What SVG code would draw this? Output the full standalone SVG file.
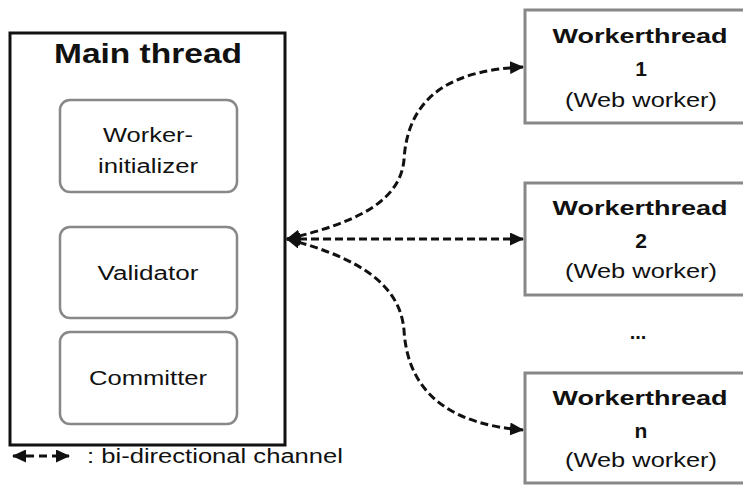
<svg xmlns="http://www.w3.org/2000/svg" width="743" height="491" viewBox="0 0 743 491">
<defs>
<style>
text{font-family:"Liberation Sans",Arial,sans-serif;fill:#111;text-anchor:middle}
.inner{fill:#fff;stroke:#888;stroke-width:2.5}
.worker{fill:#fff;stroke:#888;stroke-width:3}
.lbl{font-size:20px}
.wt{font-size:21px;font-weight:bold}
.conn{fill:none;stroke:#111;stroke-width:3;stroke-dasharray:8 4}
</style>
<marker id="ah" viewBox="0 0 14 13" refX="13" refY="6.5" markerWidth="14" markerHeight="13" markerUnits="userSpaceOnUse" orient="auto-start-reverse">
<path d="M0,0 L14,6.5 L0,13 Z" fill="#111"/>
</marker>
</defs>
<rect width="743" height="491" fill="#fff"/>
<g id="main">
<rect x="10" y="33" width="275" height="412" fill="#fff" stroke="#111" stroke-width="3"/>
<text x="148" y="63" font-size="28" font-weight="bold" textLength="188" lengthAdjust="spacingAndGlyphs">Main thread</text>
</g>
<g id="worker-initializer">
<rect class="inner" x="60" y="100" width="177" height="92" rx="10"/>
<text class="lbl" x="148" y="142" textLength="90" lengthAdjust="spacingAndGlyphs">Worker-</text>
<text class="lbl" x="148" y="173" textLength="100" lengthAdjust="spacingAndGlyphs">initializer</text>
</g>
<g id="validator">
<rect class="inner" x="60" y="227" width="177" height="91" rx="10"/>
<text class="lbl" x="148" y="280" textLength="101" lengthAdjust="spacingAndGlyphs">Validator</text>
</g>
<g id="committer">
<rect class="inner" x="60" y="332" width="177" height="92" rx="10"/>
<text class="lbl" x="148" y="385" textLength="118" lengthAdjust="spacingAndGlyphs">Committer</text>
</g>
<g id="worker1">
<rect class="worker" x="525" y="10" width="240" height="113"/>
<text class="wt" x="640" y="43" textLength="175" lengthAdjust="spacingAndGlyphs">Workerthread</text>
<text class="wt" x="641" y="76" font-size="22">1</text>
<text class="lbl" x="641" y="107" textLength="152" lengthAdjust="spacingAndGlyphs">(Web worker)</text>
</g>
<g id="worker2">
<rect class="worker" x="525" y="183" width="240" height="112"/>
<text class="wt" x="640" y="215" textLength="175" lengthAdjust="spacingAndGlyphs">Workerthread</text>
<text class="wt" x="641" y="248" font-size="22">2</text>
<text class="lbl" x="641" y="278" textLength="152" lengthAdjust="spacingAndGlyphs">(Web worker)</text>
</g>
<g id="ellipsis">
<text x="638" y="339" font-size="20" font-weight="bold">...</text>
</g>
<g id="workern">
<rect class="worker" x="525" y="373" width="240" height="110"/>
<text class="wt" x="640" y="405" textLength="175" lengthAdjust="spacingAndGlyphs">Workerthread</text>
<text class="wt" x="641" y="438" font-size="22">n</text>
<text class="lbl" x="641" y="467" textLength="152" lengthAdjust="spacingAndGlyphs">(Web worker)</text>
</g>
<g id="connectors">
<path class="conn" d="M287,239 C360,222 400,200 404,160 C408,90 460,70 523,67" marker-start="url(#ah)" marker-end="url(#ah)"/>
<path class="conn" d="M287,239 L523,239" marker-start="url(#ah)" marker-end="url(#ah)"/>
<path class="conn" d="M287,239 C360,258 400,285 404,330 C408,400 460,425 523,430" marker-start="url(#ah)" marker-end="url(#ah)"/>
</g>
<g id="legend">
<path d="M13,456 L69,456" fill="none" stroke="#111" stroke-width="3" stroke-dasharray="8 5" marker-start="url(#ah)" marker-end="url(#ah)"/>
<text class="lbl" x="215" y="463" textLength="256" lengthAdjust="spacingAndGlyphs">: bi-directional channel</text>
</g>
</svg>
